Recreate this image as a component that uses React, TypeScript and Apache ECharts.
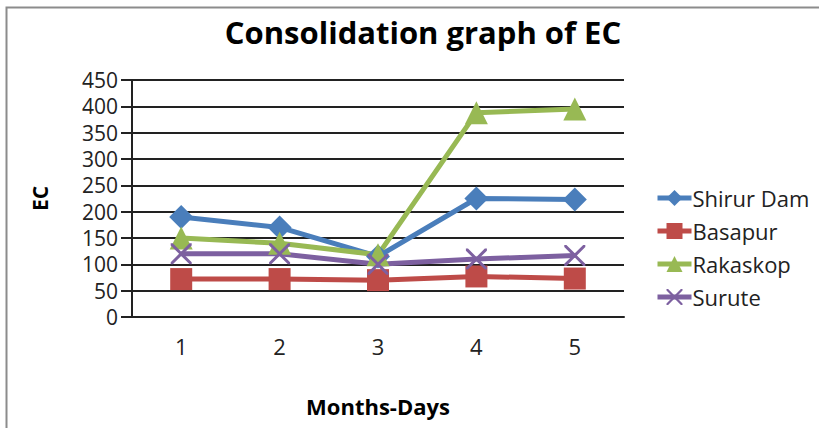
import React, { useEffect, useRef } from "react";
import * as echarts from "echarts";

const categories = ["1", "2", "3", "4", "5"];
const shirurDam = [190, 170, 115, 225, 223];
const basapur = [72, 72, 70, 77, 73];
const rakaskop = [150, 140, 118, 388, 395];
const surute = [120, 120, 100, 110, 117];
const yTicks = { min: 0, max: 450, interval: 50 };

const crossPath =
  "path://M0,0 L2,0 L10,8 L18,0 L20,0 L20,2 L12,10 L20,18 L20,20 L18,20 L10,12 L2,20 L0,20 L0,18 L8,10 L0,2 Z";

const FONT = "'Open Sans', sans-serif";

export default function App() {
  const ref = useRef<HTMLDivElement>(null);
  useEffect(() => {
    document.body.style.margin = "0";
    const chart = echarts.init(ref.current!, null, { renderer: "svg" });
    const mk = (name: string, data: number[], color: string, symbol: string, size: number) => ({
      name,
      type: "line",
      data,
      symbol,
      symbolSize: size,
      lineStyle: { color, width: 5 },
      itemStyle: { color },
      z: 3,
    });
    chart.setOption({
      animation: false,
      backgroundColor: "#fff",
      title: {
        text: "Consolidation graph of EC",
        left: 418,
        textAlign: "center",
        top: 11,
        textStyle: { fontFamily: FONT, fontWeight: "bold", fontSize: 31, color: "#000" },
      },
      graphic: [
        {
          type: "rect",
          shape: { x: 6.5, y: 7.5, width: 900, height: 500 },
          style: { fill: "none", stroke: "#8c8c8c", lineWidth: 2 },
          silent: true,
        },
      ],
      legend: {
        orient: "vertical",
        left: 650,
        top: 182,
        itemWidth: 34,
        itemHeight: 20,
        itemGap: 11,
        lineStyle: { width: 5 },
        textStyle: {
          fontFamily: FONT,
          fontSize: 22,
          lineHeight: 20,
          color: "#222",
          padding: [0, 0, 0, -4],
        },
        data: ["Shirur Dam", "Basapur", "Rakaskop", "Surute"],
      },
      grid: { left: 132, right: 195, top: 80, bottom: 111 },
      xAxis: {
        type: "category",
        data: categories,
        boundaryGap: true,
        name: "Months-Days",
        nameLocation: "middle",
        nameGap: 78,
        nameTextStyle: { fontFamily: FONT, fontWeight: "bold", fontSize: 22, color: "#000" },
        axisLine: { lineStyle: { color: "#222", width: 2 } },
        axisTick: { show: false },
        axisLabel: { fontFamily: FONT, fontSize: 22, color: "#222", margin: 18 },
      },
      yAxis: {
        type: "value",
        min: yTicks.min,
        max: yTicks.max,
        interval: yTicks.interval,
        name: "EC",
        nameLocation: "middle",
        nameGap: 82,
        nameRotate: 90,
        nameTextStyle: { fontFamily: FONT, fontWeight: "bold", fontSize: 21, color: "#000" },
        axisLine: { show: true, lineStyle: { color: "#222", width: 2 } },
        axisTick: { show: true, length: 11, lineStyle: { color: "#222", width: 2 } },
        axisLabel: { fontFamily: FONT, fontSize: 21, lineHeight: 21, color: "#222", margin: 14 },
        splitLine: { lineStyle: { color: "#222", width: 2 } },
      },
      series: [
        mk("Shirur Dam", shirurDam, "#4a7ebb", "diamond", 24),
        mk("Basapur", basapur, "#be4b48", "rect", 22),
        mk("Rakaskop", rakaskop, "#98b954", "triangle", 23),
        mk("Surute", surute, "#7d60a0", crossPath, 21),
      ],
    });
    return () => chart.dispose();
  }, []);
  return <div ref={ref} style={{ width: 819, height: 428 }} />;
}
